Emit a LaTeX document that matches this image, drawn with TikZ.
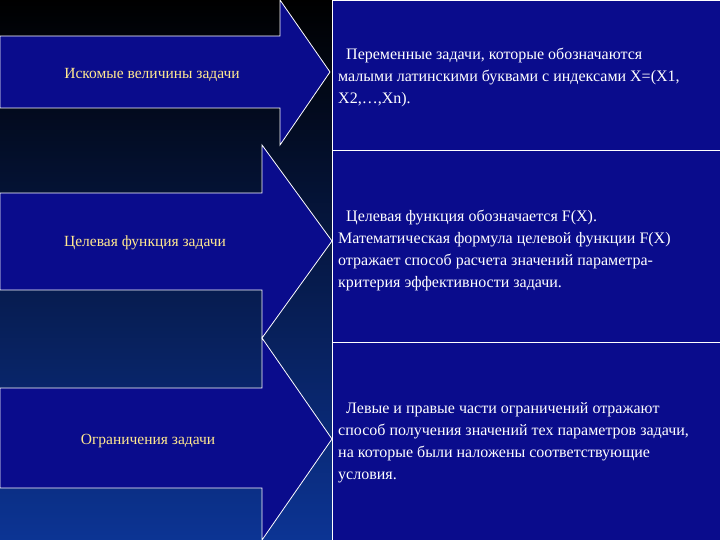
\documentclass[tikz,border=0pt]{standalone}
\usepackage{fontspec}
\setmainfont{Liberation Serif}
\begin{document}
\begin{tikzpicture}[x=1pt,y=-1pt,
  arr/.style={fill=navy,draw=white,line width=0.8pt},
  bx/.style={fill=navy,draw=white,line width=0.8pt},
  lt/.style={text=yel,font=\fontsize{15.5}{18}\selectfont},
  rt/.style={text=white,font=\fontsize{16}{22}\selectfont,align=left,anchor=west,inner sep=0pt}]
\definecolor{navy}{HTML}{0A0C8C}
\definecolor{yel}{HTML}{FFE890}
\definecolor{bgtop}{HTML}{000000}
\definecolor{bgbot}{HTML}{0C3494}
\useasboundingbox (0,0) rectangle (720,540);
\shade[top color=bgtop,bottom color=bgbot] (0,0) rectangle (720,540);
\node[bx,minimum width=388pt,minimum height=150pt,anchor=north west] (b1) at (332,0) {};
\node[bx,minimum width=388pt,minimum height=192pt,anchor=north west] (b2) at (332,150) {};
\node[bx,minimum width=388pt,minimum height=198pt,anchor=north west] (b3) at (332,342) {};
\draw[arr] (0,36) -- (280,36) -- (280,0) -- (330,72) -- (280,145) -- (280,108) -- (0,108) -- cycle;
\draw[arr] (0,193) -- (262,193) -- (262,145) -- (332,241) -- (262,338) -- (262,290) -- (0,290) -- cycle;
\draw[arr] (0,388) -- (262,388) -- (262,338) -- (332,439) -- (262,540) -- (262,488) -- (0,488) -- cycle;
\node[lt] (l1) at (152,75) {Искомые величины задачи};
\node[lt] (l2) at (145,243) {Целевая функция  задачи};
\node[lt] (l3) at (148,441) {Ограничения задачи};
\node[rt] (r1) at (338,77) {\ \ Переменные задачи, которые обозначаются\\малыми латинскими буквами с индексами X=(X1,\\X2,…,Xn).};
\node[rt] (r2) at (338,250) {\ \ Целевая функция  обозначается F(X).\\Математическая формула целевой функции F(X)\\отражает способ расчета значений параметра-\\критерия  эффективности задачи.};
\node[rt] (r3) at (338,443) {\ \ Левые и правые части ограничений отражают\\способ получения значений тех параметров задачи,\\на которые были наложены соответствующие\\условия.};
\end{tikzpicture}
\end{document}
